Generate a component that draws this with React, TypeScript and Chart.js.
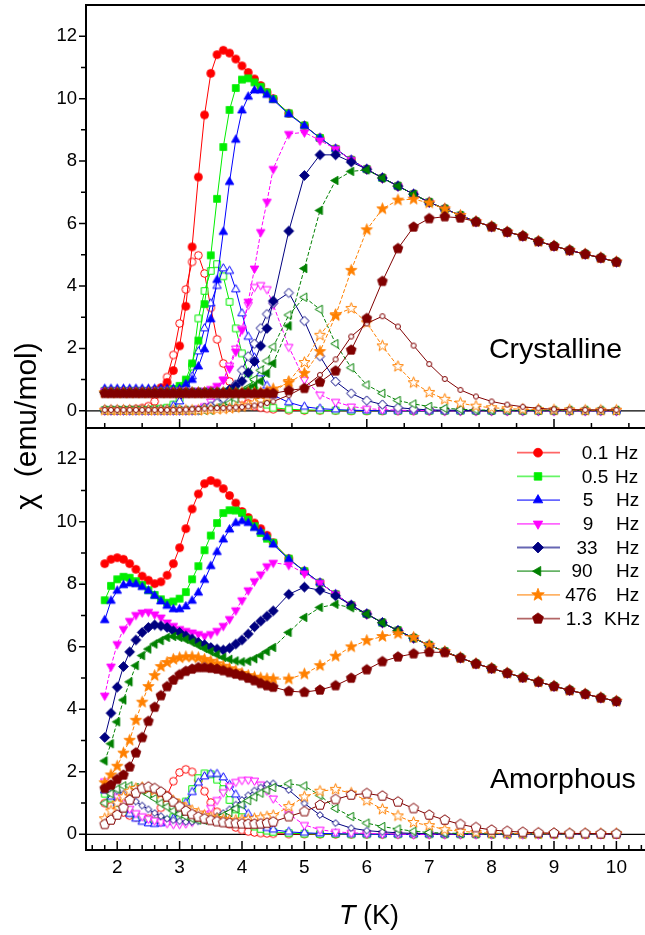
import React, { useEffect, useRef } from 'react';
import { Chart, registerables } from 'chart.js';

Chart.register(...registerables);

const FONT = '"Liberation Sans", Arial, Helvetica, sans-serif';

// ---------------- data ----------------
const temperatureK = [1.8, 1.9, 2.0, 2.1, 2.2, 2.3, 2.4, 2.5, 2.6, 2.7, 2.8, 2.9, 3.0, 3.1, 3.2, 3.3, 3.4, 3.5, 3.6, 3.7, 3.8, 3.9, 4.0, 4.1, 4.2, 4.3, 4.4, 4.5,
  4.75, 5.0, 5.25, 5.5, 5.75, 6.0, 6.25, 6.5, 6.75, 7.0, 7.25, 7.5, 7.75, 8.0, 8.25, 8.5, 8.75, 9.0, 9.25, 9.5, 9.75, 10.0];

const freqNumbers = ['0.1', '0.5', '5', '9', '33', '90', '476', '1.3'];
const freqUnits = ['Hz', 'Hz', 'Hz', 'Hz', 'Hz', 'Hz', 'Hz', 'KHz'];
const yTickLabels = [0, 2, 4, 6, 8, 10, 12];
const xTickLabels = [2, 3, 4, 5, 6, 7, 8, 9, 10];

// Crystalline, in-phase (filled symbols)
const cryReal01 = [0.6, 0.6, 0.6, 0.6, 0.6, 0.6, 0.6, 0.62, 0.66, 0.74, 0.91, 1.29, 2.08, 3.35, 5.25, 7.49, 9.48, 10.81, 11.41, 11.55, 11.46, 11.27, 11.05, 10.84, 10.63, 10.42, 10.2, 10.0,
  9.53, 9.14, 8.74, 8.39, 8.04, 7.74, 7.46, 7.2, 6.94, 6.68, 6.47, 6.26, 6.06, 5.9, 5.73, 5.6, 5.43, 5.28, 5.14, 5.02, 4.9, 4.77];
const cryReal05 = [0.64, 0.64, 0.64, 0.64, 0.64, 0.64, 0.64, 0.64, 0.64, 0.64, 0.64, 0.7, 0.8, 1.0, 1.52, 2.25, 3.42, 4.98, 6.79, 8.45, 9.64, 10.34, 10.61, 10.65, 10.52, 10.38, 10.2, 9.99,
  9.53, 9.14, 8.74, 8.39, 8.04, 7.74, 7.46, 7.2, 6.94, 6.68, 6.47, 6.26, 6.06, 5.9, 5.73, 5.6, 5.43, 5.28, 5.14, 5.02, 4.9, 4.77];
const cryReal5 = [0.7, 0.7, 0.7, 0.7, 0.7, 0.7, 0.7, 0.7, 0.7, 0.7, 0.7, 0.7, 0.7, 0.85, 0.99, 1.42, 1.97, 2.93, 4.19, 5.73, 7.33, 8.68, 9.62, 10.06, 10.26, 10.26, 10.12, 9.96,
  9.5, 9.13, 8.74, 8.39, 8.04, 7.74, 7.46, 7.2, 6.94, 6.68, 6.47, 6.26, 6.06, 5.9, 5.73, 5.6, 5.43, 5.28, 5.14, 5.02, 4.9, 4.77];
const cryReal9 = [0.64, 0.64, 0.64, 0.64, 0.64, 0.64, 0.64, 0.64, 0.64, 0.64, 0.64, 0.64, 0.64, 0.64, 0.64, 0.64, 0.64, 0.7, 0.8, 1.0, 1.36, 1.9, 2.6, 3.5, 4.56, 5.73, 6.7, 7.75,
  8.87, 8.92, 8.66, 8.39, 8.04, 7.74, 7.46, 7.2, 6.94, 6.68, 6.47, 6.26, 6.06, 5.9, 5.73, 5.6, 5.43, 5.28, 5.14, 5.02, 4.9, 4.77];
const cryReal33 = [0.6, 0.6, 0.6, 0.6, 0.6, 0.6, 0.6, 0.6, 0.6, 0.6, 0.6, 0.6, 0.6, 0.6, 0.6, 0.6, 0.6, 0.6, 0.6, 0.6, 0.68, 0.8, 0.95, 1.22, 1.58, 2.08, 2.64, 3.52,
  5.76, 7.54, 8.2, 8.2, 7.97, 7.74, 7.46, 7.2, 6.94, 6.68, 6.47, 6.26, 6.06, 5.9, 5.73, 5.6, 5.43, 5.28, 5.14, 5.02, 4.9, 4.77];
const cryReal90 = [0.6, 0.6, 0.6, 0.6, 0.6, 0.6, 0.6, 0.6, 0.6, 0.6, 0.6, 0.6, 0.6, 0.6, 0.6, 0.6, 0.6, 0.6, 0.6, 0.6, 0.6, 0.6, 0.6, 0.7, 0.8, 0.95, 1.2, 1.52,
  2.72, 4.56, 6.42, 7.38, 7.67, 7.72, 7.46, 7.2, 6.94, 6.68, 6.47, 6.26, 6.06, 5.9, 5.73, 5.6, 5.43, 5.28, 5.14, 5.02, 4.9, 4.77];
const cryReal476 = [0.58, 0.58, 0.58, 0.58, 0.58, 0.58, 0.58, 0.58, 0.58, 0.58, 0.58, 0.58, 0.58, 0.58, 0.58, 0.58, 0.58, 0.58, 0.58, 0.58, 0.58, 0.58, 0.58, 0.58, 0.58, 0.58, 0.62, 0.7,
  0.9, 1.2, 1.9, 3.05, 4.5, 5.8, 6.47, 6.75, 6.78, 6.66, 6.47, 6.26, 6.06, 5.9, 5.73, 5.6, 5.43, 5.28, 5.14, 5.02, 4.9, 4.77];
const cryReal1300 = [0.56, 0.56, 0.56, 0.56, 0.56, 0.56, 0.56, 0.56, 0.56, 0.56, 0.56, 0.56, 0.56, 0.56, 0.56, 0.56, 0.56, 0.56, 0.56, 0.56, 0.56, 0.56, 0.56, 0.56, 0.56, 0.56, 0.56, 0.56,
  0.65, 0.72, 0.92, 1.28, 1.95, 2.96, 4.15, 5.2, 5.89, 6.16, 6.22, 6.18, 6.06, 5.9, 5.73, 5.6, 5.43, 5.28, 5.14, 5.02, 4.9, 4.77];

// Crystalline, out-of-phase (open symbols)
const cryImag01 = [0.02, 0.02, 0.02, 0.03, 0.04, 0.06, 0.09, 0.15, 0.3, 0.6, 1.08, 1.79, 2.8, 3.89, 4.77, 4.98, 4.4, 3.3, 2.29, 1.52, 0.94, 0.6, 0.38, 0.24, 0.15, 0.1, 0.07, 0.05,
  0.02, 0.01, 0.01, 0.01, 0, 0, 0, 0, 0, 0, 0, 0, 0, 0, 0, 0, 0, 0, 0, 0, 0, 0];
const cryImag05 = [0.03, 0.03, 0.03, 0.03, 0.03, 0.03, 0.03, 0.03, 0.05, 0.07, 0.1, 0.2, 0.4, 0.8, 1.42, 2.96, 3.84, 4.48, 4.7, 4.31, 3.49, 2.64, 1.84, 1.2, 0.65, 0.38, 0.2, 0.1,
  0.05, 0.03, 0.02, 0.01, 0, 0, 0, 0, 0, 0, 0, 0, 0, 0, 0, 0, 0, 0, 0, 0, 0, 0];
const cryImag5 = [0.03, 0.03, 0.03, 0.03, 0.03, 0.03, 0.03, 0.03, 0.03, 0.03, 0.03, 0.15, 0.3, 0.6, 1.1, 1.9, 2.64, 3.44, 4.0, 4.56, 4.48, 3.89, 3.12, 2.37, 1.7, 1.2, 0.8, 0.5,
  0.27, 0.13, 0.07, 0.04, 0.02, 0.01, 0, 0, 0, 0, 0, 0, 0, 0, 0, 0, 0, 0, 0, 0, 0, 0];
const cryImag9 = [0.02, 0.02, 0.02, 0.02, 0.02, 0.02, 0.02, 0.02, 0.02, 0.02, 0.02, 0.02, 0.02, 0.02, 0.02, 0.08, 0.15, 0.3, 0.6, 1.0, 1.45, 2.0, 2.64, 3.4, 3.97, 4.03, 3.9, 3.4,
  2.05, 1.0, 0.52, 0.29, 0.14, 0.07, 0.04, 0.02, 0.01, 0.01, 0, 0, 0, 0, 0, 0, 0, 0, 0, 0, 0, 0];
const cryImag33 = [0.02, 0.02, 0.02, 0.02, 0.02, 0.02, 0.02, 0.02, 0.02, 0.02, 0.02, 0.02, 0.02, 0.02, 0.02, 0.02, 0.1, 0.15, 0.25, 0.4, 0.6, 0.85, 1.3, 1.75, 2.15, 2.65, 3.1, 3.45,
  3.78, 2.88, 1.75, 0.94, 0.56, 0.33, 0.2, 0.1, 0.06, 0.03, 0.02, 0.02, 0.01, 0.01, 0.01, 0.01, 0.01, 0.01, 0.01, 0.01, 0.01, 0.01];
const cryImag90 = [0.02, 0.02, 0.02, 0.02, 0.02, 0.02, 0.02, 0.02, 0.02, 0.02, 0.02, 0.02, 0.02, 0.02, 0.02, 0.02, 0.02, 0.02, 0.1, 0.15, 0.25, 0.38, 0.55, 0.75, 1.0, 1.3, 1.6, 2.05,
  3.07, 3.64, 3.25, 2.15, 1.38, 0.83, 0.56, 0.33, 0.22, 0.14, 0.08, 0.05, 0.03, 0.02, 0.02, 0.02, 0.02, 0.02, 0.02, 0.02, 0.02, 0.02];
const cryImag476 = [0.02, 0.02, 0.02, 0.02, 0.02, 0.02, 0.02, 0.02, 0.02, 0.02, 0.02, 0.02, 0.02, 0.02, 0.02, 0.02, 0.03, 0.04, 0.05, 0.06, 0.08, 0.1, 0.13, 0.18, 0.25, 0.33, 0.45, 0.6,
  0.94, 1.55, 2.42, 3.08, 3.28, 2.82, 2.08, 1.42, 0.9, 0.59, 0.37, 0.25, 0.15, 0.1, 0.07, 0.05, 0.04, 0.03, 0.03, 0.02, 0.02, 0.02];
const cryImag1300 = [0.03, 0.03, 0.03, 0.03, 0.03, 0.03, 0.03, 0.03, 0.03, 0.03, 0.03, 0.03, 0.03, 0.04, 0.05, 0.06, 0.07, 0.08, 0.09, 0.09, 0.1, 0.11, 0.12, 0.14, 0.17, 0.2, 0.25, 0.3,
  0.5, 0.76, 1.15, 1.65, 2.38, 2.8, 3.03, 2.7, 2.09, 1.5, 1.02, 0.67, 0.46, 0.3, 0.2, 0.13, 0.08, 0.05, 0.04, 0.03, 0.03, 0.03];

// Amorphous, in-phase (filled symbols)
const amoReal01 = [8.66, 8.8, 8.85, 8.8, 8.66, 8.48, 8.26, 8.13, 8.02, 8.08, 8.29, 8.66, 9.17, 9.78, 10.41, 10.89, 11.22, 11.32, 11.24, 11.06, 10.84, 10.6, 10.33, 10.14, 9.96, 9.78, 9.57, 9.33,
  8.82, 8.42, 8.05, 7.68, 7.33, 7.05, 6.77, 6.52, 6.28, 6.05, 5.85, 5.65, 5.46, 5.31, 5.16, 5.02, 4.88, 4.74, 4.61, 4.49, 4.37, 4.26];
const amoReal05 = [7.49, 7.95, 8.16, 8.24, 8.21, 8.1, 7.98, 7.81, 7.66, 7.52, 7.41, 7.45, 7.54, 7.75, 8.16, 8.58, 9.09, 9.56, 9.96, 10.28, 10.37, 10.36, 10.28, 10.07, 9.86, 9.64, 9.46, 9.33,
  8.82, 8.42, 8.05, 7.68, 7.33, 7.05, 6.77, 6.52, 6.28, 6.05, 5.85, 5.65, 5.46, 5.31, 5.16, 5.02, 4.88, 4.74, 4.61, 4.49, 4.37, 4.26];
const amoReal5 = [6.85, 7.47, 7.79, 7.97, 8.02, 8.0, 7.91, 7.79, 7.63, 7.45, 7.31, 7.2, 7.2, 7.29, 7.47, 7.73, 8.14, 8.58, 9.03, 9.43, 9.75, 9.96, 10.02, 9.96, 9.8, 9.68, 9.51, 9.27,
  8.8, 8.42, 8.05, 7.68, 7.33, 7.05, 6.77, 6.52, 6.28, 6.05, 5.85, 5.65, 5.46, 5.31, 5.16, 5.02, 4.88, 4.74, 4.61, 4.49, 4.37, 4.26];
const amoReal9 = [4.44, 5.37, 6.09, 6.57, 6.83, 7.02, 7.1, 7.12, 7.04, 6.94, 6.78, 6.67, 6.57, 6.51, 6.46, 6.41, 6.35, 6.41, 6.51, 6.67, 6.89, 7.17, 7.49, 7.81, 8.1, 8.32, 8.58, 8.69,
  8.62, 8.35, 8.05, 7.68, 7.33, 7.05, 6.77, 6.52, 6.28, 6.05, 5.85, 5.65, 5.46, 5.31, 5.16, 5.02, 4.88, 4.74, 4.61, 4.49, 4.37, 4.26];
const amoReal33 = [3.1, 3.88, 4.71, 5.37, 5.84, 6.22, 6.46, 6.62, 6.7, 6.67, 6.62, 6.51, 6.46, 6.35, 6.25, 6.14, 6.07, 5.98, 5.93, 5.9, 5.96, 6.09, 6.22, 6.41, 6.64, 6.82, 6.98, 7.15,
  7.68, 7.91, 7.81, 7.63, 7.33, 7.05, 6.77, 6.52, 6.28, 6.05, 5.85, 5.65, 5.46, 5.31, 5.16, 5.02, 4.88, 4.74, 4.61, 4.49, 4.37, 4.26];
const amoReal90 = [2.35, 2.9, 3.6, 4.3, 4.88, 5.4, 5.72, 5.93, 6.09, 6.2, 6.3, 6.33, 6.3, 6.24, 6.15, 6.05, 5.95, 5.85, 5.75, 5.66, 5.6, 5.55, 5.52, 5.54, 5.62, 5.72, 5.85, 5.98,
  6.46, 6.94, 7.26, 7.36, 7.25, 7.05, 6.77, 6.52, 6.28, 6.05, 5.85, 5.65, 5.46, 5.31, 5.16, 5.02, 4.88, 4.74, 4.61, 4.49, 4.37, 4.26];
const amoReal476 = [1.65, 1.9, 2.18, 2.6, 3.01, 3.65, 4.23, 4.73, 5.08, 5.37, 5.5, 5.6, 5.65, 5.68, 5.68, 5.65, 5.6, 5.54, 5.46, 5.38, 5.3, 5.23, 5.15, 5.08, 5.03, 5.0, 4.98, 4.97,
  4.97, 5.13, 5.4, 5.7, 6.0, 6.2, 6.33, 6.42, 6.3, 6.05, 5.85, 5.65, 5.46, 5.31, 5.16, 5.02, 4.88, 4.74, 4.61, 4.49, 4.37, 4.26];
const amoReal1300 = [1.47, 1.58, 1.76, 1.9, 2.16, 2.61, 3.1, 3.62, 4.07, 4.44, 4.73, 4.94, 5.11, 5.22, 5.29, 5.34, 5.34, 5.32, 5.29, 5.24, 5.18, 5.13, 5.08, 5.0, 4.92, 4.83, 4.76, 4.71,
  4.58, 4.55, 4.62, 4.76, 5.0, 5.27, 5.53, 5.68, 5.78, 5.83, 5.82, 5.65, 5.46, 5.31, 5.16, 5.02, 4.88, 4.74, 4.61, 4.49, 4.37, 4.26];

// Amorphous, out-of-phase (open symbols)
const amoImag01 = [1.0, 0.9, 0.8, 0.7, 0.6, 0.55, 0.5, 0.5, 0.6, 0.85, 1.25, 1.7, 1.98, 2.08, 2.0, 1.72, 1.38, 1.02, 0.72, 0.5, 0.33, 0.22, 0.14, 0.09, 0.06, 0.04, 0.03, 0.02,
  0.01, 0.01, 0, 0, 0, 0, 0, 0, 0, 0, 0, 0, 0, 0, 0, 0, 0, 0, 0, 0, 0, 0];
const amoImag05 = [1.3, 1.15, 1.0, 0.85, 0.7, 0.6, 0.5, 0.45, 0.42, 0.42, 0.45, 0.55, 0.75, 1.05, 1.45, 1.8, 1.95, 1.92, 1.75, 1.45, 1.1, 0.8, 0.55, 0.38, 0.25, 0.17, 0.12, 0.08,
  0.04, 0.02, 0.01, 0.01, 0, 0, 0, 0, 0, 0, 0, 0, 0, 0, 0, 0, 0, 0, 0, 0, 0, 0];
const amoImag5 = [1.4, 1.2, 1.0, 0.82, 0.65, 0.5, 0.4, 0.35, 0.33, 0.35, 0.4, 0.5, 0.7, 1.0, 1.35, 1.65, 1.85, 1.93, 1.93, 1.82, 1.58, 1.27, 0.95, 0.65, 0.45, 0.3, 0.2, 0.15,
  0.08, 0.05, 0.03, 0.02, 0.01, 0.01, 0, 0, 0, 0, 0, 0, 0, 0, 0, 0, 0, 0, 0, 0, 0, 0];
const amoImag9 = [1.7, 1.45, 1.2, 1.0, 0.82, 0.68, 0.58, 0.5, 0.45, 0.4, 0.36, 0.33, 0.33, 0.35, 0.4, 0.5, 0.65, 0.85, 1.1, 1.35, 1.55, 1.68, 1.74, 1.75, 1.72, 1.6, 1.4, 1.15,
  0.65, 0.3, 0.15, 0.08, 0.05, 0.03, 0.02, 0.01, 0, 0, 0, 0, 0, 0, 0, 0, 0, 0, 0, 0, 0, 0];
const amoImag33 = [1.55, 1.5, 1.4, 1.3, 1.18, 1.05, 0.92, 0.8, 0.68, 0.58, 0.5, 0.45, 0.42, 0.4, 0.4, 0.42, 0.45, 0.5, 0.58, 0.68, 0.8, 0.95, 1.1, 1.25, 1.4, 1.5, 1.6, 1.63,
  1.42, 0.99, 0.62, 0.36, 0.2, 0.12, 0.08, 0.05, 0.03, 0.02, 0.01, 0.01, 0.01, 0.01, 0.01, 0.01, 0.01, 0.01, 0.01, 0.01, 0.01, 0.01];
const amoImag90 = [1.0, 1.3, 1.45, 1.55, 1.55, 1.5, 1.4, 1.28, 1.15, 1.0, 0.88, 0.75, 0.65, 0.57, 0.5, 0.46, 0.45, 0.47, 0.52, 0.6, 0.7, 0.82, 0.95, 1.08, 1.2, 1.32, 1.42, 1.5,
  1.62, 1.55, 1.25, 0.83, 0.57, 0.36, 0.25, 0.17, 0.1, 0.06, 0.04, 0.03, 0.02, 0.01, 0.01, 0.01, 0.01, 0.01, 0.01, 0.01, 0.01, 0.01];
const amoImag476 = [0.5, 0.75, 1.0, 1.2, 1.38, 1.47, 1.5, 1.47, 1.4, 1.3, 1.18, 1.07, 0.95, 0.85, 0.76, 0.68, 0.61, 0.55, 0.5, 0.47, 0.45, 0.45, 0.46, 0.48, 0.5, 0.53, 0.56, 0.6,
  0.89, 1.2, 1.38, 1.44, 1.32, 1.08, 0.8, 0.59, 0.38, 0.28, 0.15, 0.1, 0.06, 0.04, 0.03, 0.02, 0.02, 0.02, 0.02, 0.02, 0.02, 0.02];
const amoImag1300 = [0.32, 0.46, 0.62, 0.85, 1.1, 1.32, 1.47, 1.52, 1.47, 1.36, 1.2, 1.04, 0.89, 0.75, 0.64, 0.56, 0.5, 0.45, 0.41, 0.38, 0.36, 0.35, 0.34, 0.33, 0.33, 0.34, 0.36, 0.4,
  0.57, 0.73, 0.94, 1.12, 1.26, 1.31, 1.23, 1.04, 0.83, 0.62, 0.46, 0.32, 0.22, 0.14, 0.1, 0.07, 0.05, 0.04, 0.03, 0.03, 0.02, 0.02];

const cryReal = [cryReal01, cryReal05, cryReal5, cryReal9, cryReal33, cryReal90, cryReal476, cryReal1300];
const cryImag = [cryImag01, cryImag05, cryImag5, cryImag9, cryImag33, cryImag90, cryImag476, cryImag1300];
const amoReal = [amoReal01, amoReal05, amoReal5, amoReal9, amoReal33, amoReal90, amoReal476, amoReal1300];
const amoImag = [amoImag01, amoImag05, amoImag5, amoImag9, amoImag33, amoImag90, amoImag476, amoImag1300];

// ---------------- styles ----------------
type Shape = 'circle' | 'square' | 'triUp' | 'triDown' | 'triLeft' | 'diamond' | 'star' | 'pentagon';
const COLORS = ['#ff0000', '#00ee00', '#0000ff', '#ff00ff', '#000080', '#008000', '#ff8000', '#800000'];
const SHAPES: Shape[] = ['circle', 'square', 'triUp', 'triDown', 'diamond', 'triLeft', 'star', 'pentagon'];
const FILLED_R = [4, 4.3, 5, 5, 5, 5, 6, 5.2];
const OPEN_R = [3.8, 4.1, 4.8, 4.8, 4.6, 4.8, 5.8, 5.2];
const DASHES = [[], [], [], [4, 2], [], [4, 2], [4, 2], []];

function shapePath(ctx: CanvasRenderingContext2D, shape: Shape, cx: number, cy: number, r: number) {
  ctx.beginPath();
  const poly = (n: number, a0: number) => {
    for (let k = 0; k < n; k++) {
      const a = a0 + (k * 2 * Math.PI) / n;
      const px = cx + r * Math.cos(a);
      const py = cy + r * Math.sin(a);
      if (k === 0) ctx.moveTo(px, py);
      else ctx.lineTo(px, py);
    }
    ctx.closePath();
  };
  switch (shape) {
    case 'circle':
      ctx.arc(cx, cy, r, 0, Math.PI * 2);
      break;
    case 'square':
      ctx.rect(cx - r * 0.8, cy - r * 0.8, r * 1.6, r * 1.6);
      break;
    case 'triUp':
      poly(3, -Math.PI / 2);
      break;
    case 'triDown':
      poly(3, Math.PI / 2);
      break;
    case 'triLeft':
      poly(3, Math.PI);
      break;
    case 'diamond':
      poly(4, -Math.PI / 2);
      break;
    case 'pentagon':
      poly(5, -Math.PI / 2);
      break;
    case 'star':
      for (let k = 0; k < 10; k++) {
        const a = -Math.PI / 2 + (k * Math.PI) / 5;
        const rr = k % 2 === 0 ? r : r * 0.42;
        const px = cx + rr * Math.cos(a);
        const py = cy + rr * Math.sin(a);
        if (k === 0) ctx.moveTo(px, py);
        else ctx.lineTo(px, py);
      }
      ctx.closePath();
      break;
  }
}

function drawMarker(ctx: CanvasRenderingContext2D, shape: Shape, cx: number, cy: number, r: number, fill: string, stroke: string, lw: number) {
  shapePath(ctx, shape, cx, cy, r);
  ctx.fillStyle = fill;
  ctx.fill();
  ctx.lineWidth = lw;
  ctx.strokeStyle = stroke;
  ctx.lineJoin = 'miter';
  ctx.stroke();
}

function makeMarker(shape: Shape, r: number, fill: string, stroke: string, lw: number) {
  const size = Math.ceil(2 * r + lw + 2);
  const cv = document.createElement('canvas');
  cv.width = size;
  cv.height = size;
  const ctx = cv.getContext('2d')!;
  drawMarker(ctx, shape, size / 2, size / 2, r, fill, stroke, lw);
  return cv;
}

function hexAlpha(hex: string, a: number) {
  const n = parseInt(hex.slice(1), 16);
  return `rgba(${(n >> 16) & 255},${(n >> 8) & 255},${n & 255},${a})`;
}

function buildDatasets(real: number[][], imag: number[][], panel: 'top' | 'bottom') {
  const filled: any[] = [];
  const open: any[] = [];
  for (let i = 7; i >= 0; i--) {
    const color = COLORS[i];
    filled.push({
      label: freqNumbers[i] + ' ' + freqUnits[i],
      data: temperatureK.map((t, k) => ({ x: t, y: real[i][k] })),
      borderColor: color,
      backgroundColor: color,
      borderWidth: 1,
      borderDash: DASHES[i],
      pointStyle: makeMarker(SHAPES[i], FILLED_R[i], color, color, 0.8),
      pointRadius: 4,
      pointHoverRadius: 4,
      tension: 0,
      fill: false,
    });
    let shape = SHAPES[i];
    let r = OPEN_R[i];
    if (panel === 'top' && i === 7) {
      shape = 'circle';
      r = 2.5;
    }
    if (panel === 'bottom' && i === 4) r = 3.4;
    open.push({
      label: freqNumbers[i] + ' ' + freqUnits[i] + ' (open)',
      data: temperatureK.map((t, k) => ({ x: t, y: imag[i][k] })),
      borderColor: color,
      backgroundColor: '#ffffff',
      borderWidth: 1,
      borderDash: DASHES[i],
      pointStyle: makeMarker(shape, r, '#ffffff', color, 1),
      pointRadius: 4,
      pointHoverRadius: 4,
      tension: 0,
      fill: false,
    });
  }
  return [...filled, ...open];
}

function drawZero(chart: any) {
  const { ctx, chartArea: a } = chart;
  const y0 = chart.scales.y.getPixelForValue(0);
  ctx.save();
  ctx.strokeStyle = '#000';
  ctx.lineWidth = 1.2;
  ctx.beginPath();
  ctx.moveTo(a.left, y0);
  ctx.lineTo(a.right, y0);
  ctx.stroke();
  ctx.restore();
}

function drawFrame(chart: any, panel: 'top' | 'bottom') {
  const { ctx, chartArea: a } = chart;
  const xs = chart.scales.x;
  const ys = chart.scales.y;
  ctx.save();
  ctx.strokeStyle = '#000';
  ctx.lineWidth = 2;
  ctx.beginPath();
  ctx.moveTo(a.left - 1, a.top);
  ctx.lineTo(a.right, a.top);
  ctx.moveTo(a.left - 1, a.bottom);
  ctx.lineTo(a.right, a.bottom);
  ctx.moveTo(a.left, a.top - 1);
  ctx.lineTo(a.left, a.bottom + 1);
  ctx.moveTo(a.right, a.top);
  ctx.lineTo(a.right, a.bottom);
  ctx.stroke();

  ctx.lineWidth = 1.5;
  ctx.beginPath();
  for (let v = 0; v <= 13; v++) {
    const y = ys.getPixelForValue(v);
    if (y < a.top + 2) continue;
    const len = v % 2 === 0 ? 6 : 4;
    ctx.moveTo(a.left - 1, y);
    ctx.lineTo(a.left - 1 - len, y);
  }
  if (panel === 'top') {
    for (let k = 0; k <= 14; k++) {
      const v = 1.8 + 0.6 * k;
      const major = Math.abs(v / 3 - Math.round(v / 3)) < 1e-6;
      const x = xs.getPixelForValue(v);
      ctx.moveTo(x, a.bottom - 1);
      ctx.lineTo(x, a.bottom - 1 - (major ? 8 : 4));
    }
  } else {
    for (let k = 0; k <= 44; k++) {
      const v = 1.6 + 0.2 * k;
      const major = Math.abs(v - Math.round(v)) < 1e-6;
      const x = xs.getPixelForValue(v);
      ctx.moveTo(x, a.bottom - 1);
      ctx.lineTo(x, a.bottom - 1 - (major ? 8 : 4));
    }
  }
  ctx.stroke();
  ctx.restore();
}

const topPlugin = {
  id: 'topDeco',
  beforeDatasetsDraw(chart: any) {
    drawZero(chart);
  },
  afterDraw(chart: any) {
    drawFrame(chart, 'top');
    const ctx = chart.ctx as CanvasRenderingContext2D;
    ctx.save();
    ctx.fillStyle = '#000';
    ctx.font = `28.5px ${FONT}`;
    ctx.textAlign = 'left';
    ctx.textBaseline = 'alphabetic';
    ctx.fillText('Crystalline', 489, 358);
    // y axis title (spans both panels)
    ctx.translate(28, 426);
    ctx.rotate(-Math.PI / 2);
    ctx.font = `30px ${FONT}`;
    ctx.textAlign = 'center';
    ctx.textBaseline = 'middle';
    ctx.fillText('\u03C7  (emu/mol)', 0, 0);
    ctx.restore();
  },
};

const LEGEND_NUM_X = [595, 595, 588, 588, 587, 582, 581, 579];
const LEGEND_UNIT_X = [615, 615, 616, 616, 616, 616, 616, 604];

const bottomPlugin = {
  id: 'bottomDeco',
  beforeDatasetsDraw(chart: any) {
    drawZero(chart);
  },
  afterDraw(chart: any) {
    drawFrame(chart, 'bottom');
    const ctx = chart.ctx as CanvasRenderingContext2D;
    ctx.save();
    ctx.fillStyle = '#000';
    ctx.font = `28.5px ${FONT}`;
    ctx.textAlign = 'left';
    ctx.textBaseline = 'alphabetic';
    ctx.fillText('Amorphous', 490, 788);

    // x title: italic T + (K)
    ctx.font = `italic 27px ${FONT}`;
    const wT = ctx.measureText('T').width;
    ctx.font = `27px ${FONT}`;
    const wR = ctx.measureText(' (K)').width;
    const x0 = 369 - (wT + wR) / 2;
    ctx.font = `italic 27px ${FONT}`;
    ctx.fillText('T', x0, 924);
    ctx.font = `27px ${FONT}`;
    ctx.fillText(' (K)', x0 + wT, 924);

    // legend
    for (let i = 0; i < 8; i++) {
      const y = 452.7 + 23.7 * i;
      ctx.strokeStyle = hexAlpha(COLORS[i], 0.6);
      ctx.lineWidth = 1.8;
      ctx.beginPath();
      ctx.moveTo(517, y);
      ctx.lineTo(560, y);
      ctx.stroke();
      drawMarker(ctx, SHAPES[i], 538, y, FILLED_R[i] * 1.1, COLORS[i], COLORS[i], 0.8);
      ctx.fillStyle = '#000';
      ctx.font = `19px ${FONT}`;
      ctx.textBaseline = 'middle';
      ctx.textAlign = 'center';
      ctx.fillText(freqNumbers[i], LEGEND_NUM_X[i], y + 1);
      ctx.textAlign = 'left';
      ctx.fillText(freqUnits[i], LEGEND_UNIT_X[i], y + 1);
    }
    ctx.restore();
  },
};

function yScale(min: number) {
  return {
    type: 'linear',
    position: 'left',
    min,
    max: 13,
    grid: { display: false, drawTicks: false },
    border: { display: false },
    afterBuildTicks: (s: any) => {
      s.ticks = yTickLabels.map((v) => ({ value: v }));
    },
    afterFit: (s: any) => {
      s.width = 86;
      s.paddingTop = 0;
      s.paddingBottom = 0;
    },
    ticks: { color: '#000', font: { family: FONT, size: 18.5 }, padding: 9 },
  };
}

function makeConfig(panel: 'top' | 'bottom'): any {
  const isTop = panel === 'top';
  return {
    type: 'line',
    data: {
      datasets: isTop ? buildDatasets(cryReal, cryImag, 'top') : buildDatasets(amoReal, amoImag, 'bottom'),
    },
    options: {
      animation: false,
      responsive: false,
      maintainAspectRatio: false,
      devicePixelRatio: 1,
      events: [],
      layout: {
        padding: isTop ? { left: 0, top: 5, right: 12.4, bottom: 507 } : { left: 0, top: 428, right: 12.4, bottom: 0 },
      },
      plugins: { legend: { display: false }, tooltip: { enabled: false } },
      scales: {
        x: isTop
          ? { type: 'linear', min: 1.5, max: 10.5, display: false }
          : {
              type: 'linear',
              position: 'bottom',
              min: 1.5,
              max: 10.5,
              grid: { display: false, drawTicks: false },
              border: { display: false },
              afterBuildTicks: (s: any) => {
                s.ticks = xTickLabels.map((v) => ({ value: v }));
              },
              afterFit: (s: any) => {
                s.height = 85;
                s.paddingLeft = 0;
                s.paddingRight = 0;
              },
              ticks: { color: '#000', font: { family: FONT, size: 19 }, padding: 6, maxRotation: 0, autoSkip: false },
            },
        y: yScale(isTop ? -0.55 : -0.5),
      },
    },
    plugins: [isTop ? topPlugin : bottomPlugin],
  };
}

export default function App() {
  const topRef = useRef<HTMLCanvasElement>(null);
  const botRef = useRef<HTMLCanvasElement>(null);
  useEffect(() => {
    const c1 = new Chart(topRef.current!, makeConfig('top'));
    const c2 = new Chart(botRef.current!, makeConfig('bottom'));
    return () => {
      c1.destroy();
      c2.destroy();
    };
  }, []);
  return (
    <div style={{ position: 'absolute', left: 0, top: 0, width: 645, height: 935, overflow: 'hidden', background: '#ffffff' }}>
      <canvas ref={topRef} width={660} height={935} style={{ position: 'absolute', left: 0, top: 0 }} />
      <canvas ref={botRef} width={660} height={935} style={{ position: 'absolute', left: 0, top: 0 }} />
    </div>
  );
}
